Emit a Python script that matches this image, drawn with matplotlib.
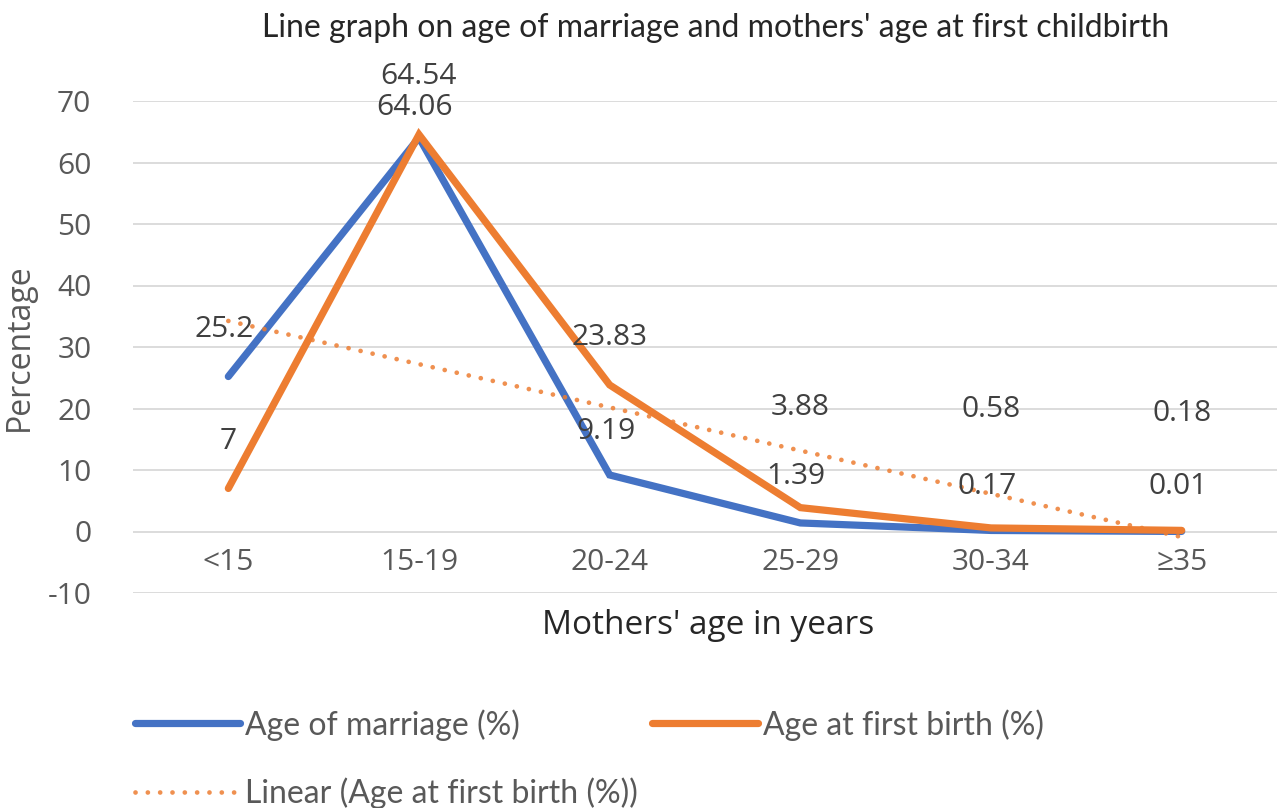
import numpy as np
import matplotlib
matplotlib.use("Agg")
import matplotlib.pyplot as plt
from matplotlib.transforms import blended_transform_factory

# data
categories = ["<15", "15-19", "20-24", "25-29", "30-34", "\u226535"]
age_marriage = [25.2, 64.06, 9.19, 1.39, 0.17, 0.01]
age_first_birth = [7, 64.54, 23.83, 3.88, 0.58, 0.18]

# label offsets above each point (pixels), as placed in the original
marriage_offsets = [47, 30, 43, 46, 44, 45]
birth_offsets = [47, 58, 47, 100, 118, 117]

BLUE = "#4472C4"
ORANGE = "#ED7D31"
GRID = "#D9D9D9"
TXT = "#595959"
NUM_FONT = "Open Sans"
LBL_FONT = "Lato"

plt.rcParams["axes.unicode_minus"] = False

fig = plt.figure(figsize=(12.77, 8.08), dpi=100)
ax = fig.add_axes([133 / 1277, 1 - 593 / 808, 1 - 133 / 1277, (593 - 101) / 808])

x = np.arange(len(categories))
l1, = ax.plot(x, age_marriage, color=BLUE, lw=5.2, solid_capstyle="round",
              solid_joinstyle="miter", label="Age of marriage (%)", zorder=3)
l2, = ax.plot(x, age_first_birth, color=ORANGE, lw=5.2, solid_capstyle="round",
              solid_joinstyle="miter", label="Age at first birth (%)", zorder=4)

# linear trendline fitted to the first-birth series
slope, icpt = np.polyfit(x + 1, age_first_birth, 1)
trend = slope * (x + 1) + icpt
l3, = ax.plot(x, trend, color=ORANGE, lw=3.4, linestyle=(0, (0.01, 2.6)),
              dash_capstyle="round", alpha=0.85,
              label="Linear (Age at first birth (%))", zorder=5)

for xi, v, off in zip(x, age_marriage, marriage_offsets):
    ax.annotate(f"{v:g}", (xi, v), xytext=(-4, off), textcoords="offset pixels",
                ha="center", va="center", fontsize=21.5, color="#404040",
                family=NUM_FONT, zorder=6)
for xi, v, off in zip(x, age_first_birth, birth_offsets):
    ax.annotate(f"{v:g}", (xi, v), xytext=(0, off), textcoords="offset pixels",
                ha="center", va="center", fontsize=21.5, color="#404040",
                family=NUM_FONT, zorder=6)

ax.set_xlim(-0.5, len(categories) - 0.5)
ax.set_ylim(-10, 70)
ax.set_yticks(range(-10, 71, 10))
ax.set_xticks([])
ax.grid(axis="y", color=GRID, lw=1.3)
ax.set_axisbelow(True)
for s in ax.spines.values():
    s.set_visible(False)
ax.tick_params(axis="y", length=0, pad=30, labelsize=21.5, labelcolor=TXT)
for t in ax.get_yticklabels():
    t.set_fontfamily(NUM_FONT)

# category labels sit between the 0 and -10 gridlines
tr = blended_transform_factory(ax.transData, ax.transData)
for xi, c in zip(x, categories):
    ax.text(xi, -5, c, transform=tr, ha="center", va="center", fontsize=21.5,
            color=TXT, family=NUM_FONT)

ax.set_ylabel("Percentage", fontsize=23, color=TXT, family=NUM_FONT)
ax.yaxis.set_label_coords(-97 / 1144, 0.5)
fig.text(708 / 1277, 1 - 625 / 808, "Mothers' age in years", ha="center", va="center",
         fontsize=24, color="#262626", family=NUM_FONT)
fig.text(716 / 1277, 1 - 28 / 808,
         "Line graph on age of marriage and mothers' age at first childbirth",
         ha="center", va="center", fontsize=23, color="#262626", family=LBL_FONT)

leg = fig.legend([l1, l3, l2], [l1.get_label(), l3.get_label(), l2.get_label()],
                 loc="upper left", bbox_to_anchor=(135 / 1277, 1 - 709 / 808),
                 ncol=2, frameon=False, prop={"family": LBL_FONT, "size": 23},
                 handlelength=3.3, handletextpad=0.15, columnspacing=0.45,
                 labelspacing=1.15, borderaxespad=0, borderpad=0)
for t in leg.get_texts():
    t.set_color(TXT)

fig.savefig("out.png", dpi=100, facecolor="white")
